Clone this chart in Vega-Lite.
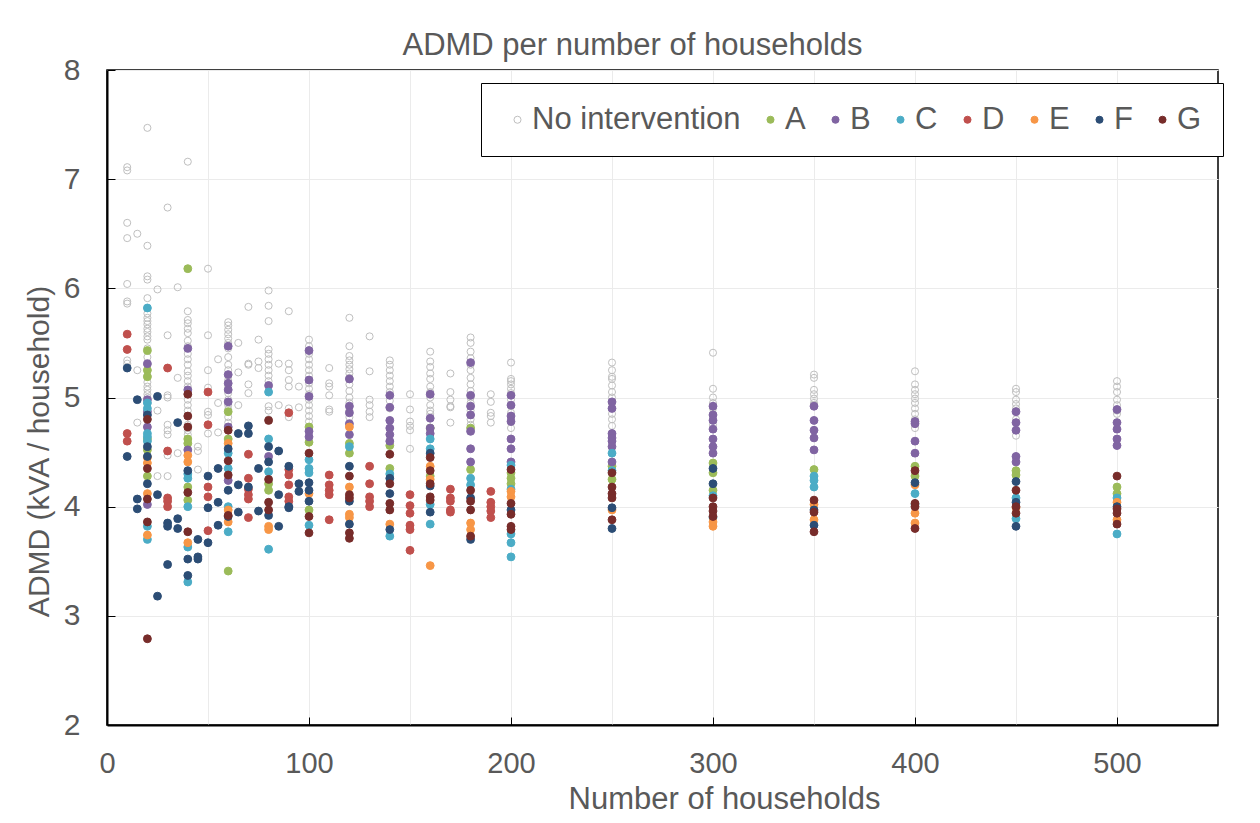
{
  "$schema": "https://vega.github.io/schema/vega-lite/v6.json",
  "width": 1111,
  "height": 655,
  "autosize": "none",
  "padding": {"left": 107, "top": 70, "right": 42, "bottom": 98},
  "background": "white",
  "title": {
    "text": "ADMD per number of households",
    "anchor": "middle",
    "dx": -30,
    "dy": 44,
    "offset": 13,
    "baseline": "alphabetic",
    "fontSize": 31,
    "font": "Liberation Sans",
    "fontWeight": "normal",
    "color": "#595959"
  },
  "config": {
    "font": "Liberation Sans",
    "view": {"stroke": "#000000", "strokeWidth": 1.5}
  },
  "datasets": {
    "admd": [
      {"households": 10, "group": "No intervention", "admd": 7.11},
      {"households": 10, "group": "No intervention", "admd": 7.08},
      {"households": 10, "group": "No intervention", "admd": 6.60},
      {"households": 10, "group": "No intervention", "admd": 6.46},
      {"households": 10, "group": "No intervention", "admd": 6.04},
      {"households": 10, "group": "No intervention", "admd": 5.88},
      {"households": 10, "group": "No intervention", "admd": 5.86},
      {"households": 10, "group": "No intervention", "admd": 5.34},
      {"households": 10, "group": "No intervention", "admd": 5.31},
      {"households": 10, "group": "D", "admd": 5.58},
      {"households": 10, "group": "D", "admd": 5.44},
      {"households": 10, "group": "D", "admd": 4.67},
      {"households": 10, "group": "D", "admd": 4.60},
      {"households": 10, "group": "F", "admd": 5.27},
      {"households": 10, "group": "F", "admd": 4.46},

      {"households": 15, "group": "No intervention", "admd": 6.50},
      {"households": 15, "group": "No intervention", "admd": 5.25},
      {"households": 15, "group": "No intervention", "admd": 4.77},
      {"households": 15, "group": "F", "admd": 4.98},
      {"households": 15, "group": "F", "admd": 4.07},
      {"households": 15, "group": "F", "admd": 3.98},

      {"households": 20, "group": "No intervention", "admd": 7.47},
      {"households": 20, "group": "No intervention", "admd": 6.39},
      {"households": 20, "group": "No intervention", "admd": 6.11},
      {"households": 20, "group": "No intervention", "admd": 6.08},
      {"households": 20, "group": "No intervention", "admd": 5.91},
      {"households": 20, "group": "No intervention", "admd": 5.77},
      {"households": 20, "group": "No intervention", "admd": 5.73},
      {"households": 20, "group": "No intervention", "admd": 5.70},
      {"households": 20, "group": "No intervention", "admd": 5.67},
      {"households": 20, "group": "No intervention", "admd": 5.63},
      {"households": 20, "group": "No intervention", "admd": 5.60},
      {"households": 20, "group": "No intervention", "admd": 5.56},
      {"households": 20, "group": "No intervention", "admd": 5.53},
      {"households": 20, "group": "No intervention", "admd": 5.45},
      {"households": 20, "group": "No intervention", "admd": 5.37},
      {"households": 20, "group": "No intervention", "admd": 5.30},
      {"households": 20, "group": "No intervention", "admd": 5.20},
      {"households": 20, "group": "No intervention", "admd": 5.14},
      {"households": 20, "group": "No intervention", "admd": 5.10},
      {"households": 20, "group": "No intervention", "admd": 5.07},
      {"households": 20, "group": "No intervention", "admd": 5.03},
      {"households": 20, "group": "No intervention", "admd": 5.00},
      {"households": 20, "group": "No intervention", "admd": 4.95},
      {"households": 20, "group": "A", "admd": 5.43},
      {"households": 20, "group": "A", "admd": 5.25},
      {"households": 20, "group": "A", "admd": 5.19},
      {"households": 20, "group": "A", "admd": 4.62},
      {"households": 20, "group": "A", "admd": 4.52},
      {"households": 20, "group": "A", "admd": 4.28},
      {"households": 20, "group": "B", "admd": 5.31},
      {"households": 20, "group": "B", "admd": 4.98},
      {"households": 20, "group": "B", "admd": 4.87},
      {"households": 20, "group": "B", "admd": 4.73},
      {"households": 20, "group": "B", "admd": 4.02},
      {"households": 20, "group": "C", "admd": 5.82},
      {"households": 20, "group": "C", "admd": 4.95},
      {"households": 20, "group": "C", "admd": 4.90},
      {"households": 20, "group": "C", "admd": 4.67},
      {"households": 20, "group": "C", "admd": 4.64},
      {"households": 20, "group": "C", "admd": 4.60},
      {"households": 20, "group": "C", "admd": 3.82},
      {"households": 20, "group": "C", "admd": 3.70},
      {"households": 20, "group": "E", "admd": 4.45},
      {"households": 20, "group": "E", "admd": 4.40},
      {"households": 20, "group": "E", "admd": 4.12},
      {"households": 20, "group": "E", "admd": 3.74},
      {"households": 20, "group": "F", "admd": 4.84},
      {"households": 20, "group": "F", "admd": 4.55},
      {"households": 20, "group": "F", "admd": 4.46},
      {"households": 20, "group": "F", "admd": 4.21},
      {"households": 20, "group": "G", "admd": 4.80},
      {"households": 20, "group": "G", "admd": 4.35},
      {"households": 20, "group": "G", "admd": 4.07},
      {"households": 20, "group": "G", "admd": 3.86},
      {"households": 20, "group": "G", "admd": 2.79},

      {"households": 25, "group": "No intervention", "admd": 5.99},
      {"households": 25, "group": "No intervention", "admd": 4.88},
      {"households": 25, "group": "No intervention", "admd": 4.28},
      {"households": 25, "group": "F", "admd": 5.01},
      {"households": 25, "group": "F", "admd": 4.11},
      {"households": 25, "group": "F", "admd": 3.18},

      {"households": 30, "group": "No intervention", "admd": 6.74},
      {"households": 30, "group": "No intervention", "admd": 5.57},
      {"households": 30, "group": "No intervention", "admd": 5.02},
      {"households": 30, "group": "No intervention", "admd": 5.00},
      {"households": 30, "group": "No intervention", "admd": 4.75},
      {"households": 30, "group": "No intervention", "admd": 4.70},
      {"households": 30, "group": "No intervention", "admd": 4.66},
      {"households": 30, "group": "No intervention", "admd": 4.47},
      {"households": 30, "group": "No intervention", "admd": 4.28},
      {"households": 30, "group": "D", "admd": 5.27},
      {"households": 30, "group": "D", "admd": 4.51},
      {"households": 30, "group": "D", "admd": 4.08},
      {"households": 30, "group": "D", "admd": 4.05},
      {"households": 30, "group": "D", "admd": 4.00},
      {"households": 30, "group": "F", "admd": 3.85},
      {"households": 30, "group": "F", "admd": 3.82},
      {"households": 30, "group": "F", "admd": 3.47},

      {"households": 35, "group": "No intervention", "admd": 6.01},
      {"households": 35, "group": "No intervention", "admd": 5.18},
      {"households": 35, "group": "No intervention", "admd": 4.49},
      {"households": 35, "group": "F", "admd": 4.77},
      {"households": 35, "group": "F", "admd": 3.89},
      {"households": 35, "group": "F", "admd": 3.80},

      {"households": 40, "group": "No intervention", "admd": 7.16},
      {"households": 40, "group": "No intervention", "admd": 5.79},
      {"households": 40, "group": "No intervention", "admd": 5.71},
      {"households": 40, "group": "No intervention", "admd": 5.68},
      {"households": 40, "group": "No intervention", "admd": 5.63},
      {"households": 40, "group": "No intervention", "admd": 5.59},
      {"households": 40, "group": "No intervention", "admd": 5.52},
      {"households": 40, "group": "No intervention", "admd": 5.47},
      {"households": 40, "group": "No intervention", "admd": 5.40},
      {"households": 40, "group": "No intervention", "admd": 5.35},
      {"households": 40, "group": "No intervention", "admd": 5.30},
      {"households": 40, "group": "No intervention", "admd": 5.24},
      {"households": 40, "group": "No intervention", "admd": 5.20},
      {"households": 40, "group": "No intervention", "admd": 5.15},
      {"households": 40, "group": "No intervention", "admd": 5.10},
      {"households": 40, "group": "No intervention", "admd": 5.04},
      {"households": 40, "group": "No intervention", "admd": 4.98},
      {"households": 40, "group": "No intervention", "admd": 4.93},
      {"households": 40, "group": "No intervention", "admd": 4.88},
      {"households": 40, "group": "No intervention", "admd": 4.75},
      {"households": 40, "group": "No intervention", "admd": 4.70},
      {"households": 40, "group": "No intervention", "admd": 4.66},
      {"households": 40, "group": "A", "admd": 6.18},
      {"households": 40, "group": "A", "admd": 4.62},
      {"households": 40, "group": "A", "admd": 4.58},
      {"households": 40, "group": "A", "admd": 4.18},
      {"households": 40, "group": "A", "admd": 4.06},
      {"households": 40, "group": "B", "admd": 5.45},
      {"households": 40, "group": "B", "admd": 5.07},
      {"households": 40, "group": "B", "admd": 4.52},
      {"households": 40, "group": "C", "admd": 4.30},
      {"households": 40, "group": "C", "admd": 4.26},
      {"households": 40, "group": "C", "admd": 4.00},
      {"households": 40, "group": "C", "admd": 3.63},
      {"households": 40, "group": "C", "admd": 3.31},
      {"households": 40, "group": "E", "admd": 4.47},
      {"households": 40, "group": "E", "admd": 4.41},
      {"households": 40, "group": "E", "admd": 3.67},
      {"households": 40, "group": "F", "admd": 4.33},
      {"households": 40, "group": "F", "admd": 3.52},
      {"households": 40, "group": "F", "admd": 3.37},
      {"households": 40, "group": "G", "admd": 5.03},
      {"households": 40, "group": "G", "admd": 4.83},
      {"households": 40, "group": "G", "admd": 4.73},
      {"households": 40, "group": "G", "admd": 4.13},
      {"households": 40, "group": "G", "admd": 3.77},

      {"households": 45, "group": "No intervention", "admd": 4.55},
      {"households": 45, "group": "No intervention", "admd": 4.51},
      {"households": 45, "group": "No intervention", "admd": 4.34},
      {"households": 45, "group": "F", "admd": 3.70},
      {"households": 45, "group": "F", "admd": 3.54},
      {"households": 45, "group": "F", "admd": 3.52},

      {"households": 50, "group": "No intervention", "admd": 6.18},
      {"households": 50, "group": "No intervention", "admd": 5.57},
      {"households": 50, "group": "No intervention", "admd": 5.25},
      {"households": 50, "group": "No intervention", "admd": 5.09},
      {"households": 50, "group": "No intervention", "admd": 4.87},
      {"households": 50, "group": "No intervention", "admd": 4.84},
      {"households": 50, "group": "No intervention", "admd": 4.67},
      {"households": 50, "group": "D", "admd": 5.05},
      {"households": 50, "group": "D", "admd": 4.75},
      {"households": 50, "group": "D", "admd": 4.18},
      {"households": 50, "group": "D", "admd": 4.09},
      {"households": 50, "group": "D", "admd": 3.78},
      {"households": 50, "group": "F", "admd": 4.28},
      {"households": 50, "group": "F", "admd": 3.99},
      {"households": 50, "group": "F", "admd": 3.67},

      {"households": 55, "group": "No intervention", "admd": 5.35},
      {"households": 55, "group": "No intervention", "admd": 4.95},
      {"households": 55, "group": "No intervention", "admd": 4.68},
      {"households": 55, "group": "F", "admd": 4.35},
      {"households": 55, "group": "F", "admd": 4.04},
      {"households": 55, "group": "F", "admd": 3.83},

      {"households": 60, "group": "No intervention", "admd": 5.69},
      {"households": 60, "group": "No intervention", "admd": 5.66},
      {"households": 60, "group": "No intervention", "admd": 5.62},
      {"households": 60, "group": "No intervention", "admd": 5.58},
      {"households": 60, "group": "No intervention", "admd": 5.54},
      {"households": 60, "group": "No intervention", "admd": 5.50},
      {"households": 60, "group": "No intervention", "admd": 5.45},
      {"households": 60, "group": "No intervention", "admd": 5.37},
      {"households": 60, "group": "No intervention", "admd": 5.30},
      {"households": 60, "group": "No intervention", "admd": 5.25},
      {"households": 60, "group": "No intervention", "admd": 5.20},
      {"households": 60, "group": "No intervention", "admd": 5.16},
      {"households": 60, "group": "No intervention", "admd": 5.10},
      {"households": 60, "group": "No intervention", "admd": 5.04},
      {"households": 60, "group": "No intervention", "admd": 4.98},
      {"households": 60, "group": "No intervention", "admd": 4.93},
      {"households": 60, "group": "No intervention", "admd": 4.89},
      {"households": 60, "group": "No intervention", "admd": 4.82},
      {"households": 60, "group": "No intervention", "admd": 4.77},
      {"households": 60, "group": "A", "admd": 4.87},
      {"households": 60, "group": "A", "admd": 4.62},
      {"households": 60, "group": "A", "admd": 3.41},
      {"households": 60, "group": "B", "admd": 5.47},
      {"households": 60, "group": "B", "admd": 5.21},
      {"households": 60, "group": "B", "admd": 5.13},
      {"households": 60, "group": "B", "admd": 5.07},
      {"households": 60, "group": "B", "admd": 4.96},
      {"households": 60, "group": "B", "admd": 4.73},
      {"households": 60, "group": "B", "admd": 4.24},
      {"households": 60, "group": "C", "admd": 4.49},
      {"households": 60, "group": "C", "admd": 4.35},
      {"households": 60, "group": "C", "admd": 4.00},
      {"households": 60, "group": "C", "admd": 3.77},
      {"households": 60, "group": "E", "admd": 4.58},
      {"households": 60, "group": "E", "admd": 3.97},
      {"households": 60, "group": "E", "admd": 3.86},
      {"households": 60, "group": "F", "admd": 4.53},
      {"households": 60, "group": "F", "admd": 4.15},
      {"households": 60, "group": "F", "admd": 3.91},
      {"households": 60, "group": "G", "admd": 4.70},
      {"households": 60, "group": "G", "admd": 4.42},
      {"households": 60, "group": "G", "admd": 4.29},
      {"households": 60, "group": "G", "admd": 3.92},

      {"households": 65, "group": "No intervention", "admd": 5.50},
      {"households": 65, "group": "No intervention", "admd": 5.23},
      {"households": 65, "group": "No intervention", "admd": 4.93},
      {"households": 65, "group": "F", "admd": 4.67},
      {"households": 65, "group": "F", "admd": 4.20},
      {"households": 65, "group": "F", "admd": 3.95},

      {"households": 70, "group": "No intervention", "admd": 5.83},
      {"households": 70, "group": "No intervention", "admd": 5.31},
      {"households": 70, "group": "No intervention", "admd": 5.30},
      {"households": 70, "group": "No intervention", "admd": 5.12},
      {"households": 70, "group": "No intervention", "admd": 5.04},
      {"households": 70, "group": "D", "admd": 4.48},
      {"households": 70, "group": "D", "admd": 4.26},
      {"households": 70, "group": "D", "admd": 4.16},
      {"households": 70, "group": "D", "admd": 4.11},
      {"households": 70, "group": "D", "admd": 4.07},
      {"households": 70, "group": "D", "admd": 3.90},
      {"households": 70, "group": "F", "admd": 4.74},
      {"households": 70, "group": "F", "admd": 4.67},
      {"households": 70, "group": "F", "admd": 4.18},

      {"households": 75, "group": "No intervention", "admd": 5.53},
      {"households": 75, "group": "No intervention", "admd": 5.33},
      {"households": 75, "group": "No intervention", "admd": 5.27},
      {"households": 75, "group": "F", "admd": 4.35},
      {"households": 75, "group": "F", "admd": 3.96},

      {"households": 80, "group": "No intervention", "admd": 5.98},
      {"households": 80, "group": "No intervention", "admd": 5.84},
      {"households": 80, "group": "No intervention", "admd": 5.70},
      {"households": 80, "group": "No intervention", "admd": 5.44},
      {"households": 80, "group": "No intervention", "admd": 5.40},
      {"households": 80, "group": "No intervention", "admd": 5.35},
      {"households": 80, "group": "No intervention", "admd": 5.30},
      {"households": 80, "group": "No intervention", "admd": 5.25},
      {"households": 80, "group": "No intervention", "admd": 5.20},
      {"households": 80, "group": "No intervention", "admd": 5.15},
      {"households": 80, "group": "No intervention", "admd": 4.92},
      {"households": 80, "group": "No intervention", "admd": 4.88},
      {"households": 80, "group": "No intervention", "admd": 4.80},
      {"households": 80, "group": "A", "admd": 4.21},
      {"households": 80, "group": "A", "admd": 4.15},
      {"households": 80, "group": "B", "admd": 5.11},
      {"households": 80, "group": "B", "admd": 4.46},
      {"households": 80, "group": "C", "admd": 5.05},
      {"households": 80, "group": "C", "admd": 4.62},
      {"households": 80, "group": "C", "admd": 4.32},
      {"households": 80, "group": "C", "admd": 3.61},
      {"households": 80, "group": "E", "admd": 3.82},
      {"households": 80, "group": "E", "admd": 3.79},
      {"households": 80, "group": "F", "admd": 4.55},
      {"households": 80, "group": "F", "admd": 4.41},
      {"households": 80, "group": "F", "admd": 3.92},
      {"households": 80, "group": "G", "admd": 4.79},
      {"households": 80, "group": "G", "admd": 4.25},
      {"households": 80, "group": "G", "admd": 4.04},
      {"households": 80, "group": "G", "admd": 3.97},

      {"households": 85, "group": "No intervention", "admd": 5.31},
      {"households": 85, "group": "No intervention", "admd": 4.93},
      {"households": 85, "group": "F", "admd": 4.51},
      {"households": 85, "group": "F", "admd": 4.11},
      {"households": 85, "group": "F", "admd": 3.82},

      {"households": 90, "group": "No intervention", "admd": 5.79},
      {"households": 90, "group": "No intervention", "admd": 5.31},
      {"households": 90, "group": "No intervention", "admd": 5.25},
      {"households": 90, "group": "No intervention", "admd": 5.16},
      {"households": 90, "group": "No intervention", "admd": 5.10},
      {"households": 90, "group": "No intervention", "admd": 4.90},
      {"households": 90, "group": "No intervention", "admd": 4.82},
      {"households": 90, "group": "D", "admd": 4.86},
      {"households": 90, "group": "D", "admd": 4.34},
      {"households": 90, "group": "D", "admd": 4.29},
      {"households": 90, "group": "D", "admd": 4.20},
      {"households": 90, "group": "D", "admd": 4.09},
      {"households": 90, "group": "D", "admd": 4.05},
      {"households": 90, "group": "F", "admd": 4.37},
      {"households": 90, "group": "F", "admd": 4.00},
      {"households": 90, "group": "F", "admd": 3.99},

      {"households": 95, "group": "No intervention", "admd": 5.10},
      {"households": 95, "group": "No intervention", "admd": 4.91},
      {"households": 95, "group": "F", "admd": 4.21},
      {"households": 95, "group": "F", "admd": 4.14},

      {"households": 100, "group": "No intervention", "admd": 5.53},
      {"households": 100, "group": "No intervention", "admd": 5.47},
      {"households": 100, "group": "No intervention", "admd": 5.40},
      {"households": 100, "group": "No intervention", "admd": 5.35},
      {"households": 100, "group": "No intervention", "admd": 5.30},
      {"households": 100, "group": "No intervention", "admd": 5.25},
      {"households": 100, "group": "No intervention", "admd": 5.20},
      {"households": 100, "group": "No intervention", "admd": 5.13},
      {"households": 100, "group": "No intervention", "admd": 5.08},
      {"households": 100, "group": "No intervention", "admd": 5.03},
      {"households": 100, "group": "No intervention", "admd": 4.98},
      {"households": 100, "group": "No intervention", "admd": 4.93},
      {"households": 100, "group": "No intervention", "admd": 4.88},
      {"households": 100, "group": "No intervention", "admd": 4.83},
      {"households": 100, "group": "No intervention", "admd": 4.78},
      {"households": 100, "group": "No intervention", "admd": 4.70},
      {"households": 100, "group": "A", "admd": 4.73},
      {"households": 100, "group": "A", "admd": 4.59},
      {"households": 100, "group": "A", "admd": 3.97},
      {"households": 100, "group": "B", "admd": 5.43},
      {"households": 100, "group": "B", "admd": 5.16},
      {"households": 100, "group": "B", "admd": 5.01},
      {"households": 100, "group": "B", "admd": 4.69},
      {"households": 100, "group": "B", "admd": 4.64},
      {"households": 100, "group": "C", "admd": 4.43},
      {"households": 100, "group": "C", "admd": 4.35},
      {"households": 100, "group": "C", "admd": 4.31},
      {"households": 100, "group": "C", "admd": 3.83},
      {"households": 100, "group": "E", "admd": 4.12},
      {"households": 100, "group": "F", "admd": 4.22},
      {"households": 100, "group": "F", "admd": 4.15},
      {"households": 100, "group": "F", "admd": 4.05},
      {"households": 100, "group": "G", "admd": 4.49},
      {"households": 100, "group": "G", "admd": 3.91},
      {"households": 100, "group": "G", "admd": 3.76},

      {"households": 110, "group": "No intervention", "admd": 5.27},
      {"households": 110, "group": "No intervention", "admd": 5.13},
      {"households": 110, "group": "No intervention", "admd": 5.10},
      {"households": 110, "group": "No intervention", "admd": 5.02},
      {"households": 110, "group": "No intervention", "admd": 4.89},
      {"households": 110, "group": "No intervention", "admd": 4.87},
      {"households": 110, "group": "D", "admd": 4.29},
      {"households": 110, "group": "D", "admd": 4.20},
      {"households": 110, "group": "D", "admd": 4.15},
      {"households": 110, "group": "D", "admd": 4.11},
      {"households": 110, "group": "D", "admd": 3.88},

      {"households": 120, "group": "No intervention", "admd": 5.73},
      {"households": 120, "group": "No intervention", "admd": 5.47},
      {"households": 120, "group": "No intervention", "admd": 5.38},
      {"households": 120, "group": "No intervention", "admd": 5.34},
      {"households": 120, "group": "No intervention", "admd": 5.30},
      {"households": 120, "group": "No intervention", "admd": 5.26},
      {"households": 120, "group": "No intervention", "admd": 5.22},
      {"households": 120, "group": "No intervention", "admd": 5.18},
      {"households": 120, "group": "No intervention", "admd": 5.12},
      {"households": 120, "group": "No intervention", "admd": 5.06},
      {"households": 120, "group": "No intervention", "admd": 5.00},
      {"households": 120, "group": "No intervention", "admd": 4.95},
      {"households": 120, "group": "No intervention", "admd": 4.88},
      {"households": 120, "group": "No intervention", "admd": 4.82},
      {"households": 120, "group": "A", "admd": 4.58},
      {"households": 120, "group": "A", "admd": 4.49},
      {"households": 120, "group": "B", "admd": 5.17},
      {"households": 120, "group": "B", "admd": 4.92},
      {"households": 120, "group": "B", "admd": 4.86},
      {"households": 120, "group": "B", "admd": 4.76},
      {"households": 120, "group": "B", "admd": 4.66},
      {"households": 120, "group": "C", "admd": 4.55},
      {"households": 120, "group": "E", "admd": 4.73},
      {"households": 120, "group": "E", "admd": 4.18},
      {"households": 120, "group": "E", "admd": 3.93},
      {"households": 120, "group": "E", "admd": 3.90},
      {"households": 120, "group": "F", "admd": 4.37},
      {"households": 120, "group": "F", "admd": 4.05},
      {"households": 120, "group": "F", "admd": 3.84},
      {"households": 120, "group": "G", "admd": 4.28},
      {"households": 120, "group": "G", "admd": 4.11},
      {"households": 120, "group": "G", "admd": 4.08},
      {"households": 120, "group": "G", "admd": 3.76},
      {"households": 120, "group": "G", "admd": 3.71},

      {"households": 130, "group": "No intervention", "admd": 5.56},
      {"households": 130, "group": "No intervention", "admd": 5.24},
      {"households": 130, "group": "No intervention", "admd": 4.98},
      {"households": 130, "group": "No intervention", "admd": 4.93},
      {"households": 130, "group": "No intervention", "admd": 4.87},
      {"households": 130, "group": "No intervention", "admd": 4.82},
      {"households": 130, "group": "D", "admd": 4.37},
      {"households": 130, "group": "D", "admd": 4.21},
      {"households": 130, "group": "D", "admd": 4.09},
      {"households": 130, "group": "D", "admd": 4.05},
      {"households": 130, "group": "D", "admd": 4.00},

      {"households": 140, "group": "No intervention", "admd": 5.34},
      {"households": 140, "group": "No intervention", "admd": 5.30},
      {"households": 140, "group": "No intervention", "admd": 5.25},
      {"households": 140, "group": "No intervention", "admd": 5.20},
      {"households": 140, "group": "No intervention", "admd": 5.15},
      {"households": 140, "group": "No intervention", "admd": 5.10},
      {"households": 140, "group": "No intervention", "admd": 5.05},
      {"households": 140, "group": "No intervention", "admd": 4.97},
      {"households": 140, "group": "No intervention", "admd": 4.90},
      {"households": 140, "group": "A", "admd": 4.56},
      {"households": 140, "group": "A", "admd": 4.35},
      {"households": 140, "group": "B", "admd": 5.02},
      {"households": 140, "group": "B", "admd": 4.91},
      {"households": 140, "group": "B", "admd": 4.79},
      {"households": 140, "group": "B", "admd": 4.72},
      {"households": 140, "group": "B", "admd": 4.66},
      {"households": 140, "group": "B", "admd": 4.60},
      {"households": 140, "group": "C", "admd": 4.30},
      {"households": 140, "group": "C", "admd": 3.73},
      {"households": 140, "group": "E", "admd": 3.84},
      {"households": 140, "group": "F", "admd": 4.26},
      {"households": 140, "group": "F", "admd": 4.12},
      {"households": 140, "group": "F", "admd": 3.79},
      {"households": 140, "group": "G", "admd": 4.48},
      {"households": 140, "group": "G", "admd": 4.21},
      {"households": 140, "group": "G", "admd": 4.03},
      {"households": 140, "group": "G", "admd": 3.97},

      {"households": 150, "group": "No intervention", "admd": 5.03},
      {"households": 150, "group": "No intervention", "admd": 4.89},
      {"households": 150, "group": "No intervention", "admd": 4.78},
      {"households": 150, "group": "No intervention", "admd": 4.74},
      {"households": 150, "group": "No intervention", "admd": 4.70},
      {"households": 150, "group": "No intervention", "admd": 4.53},
      {"households": 150, "group": "D", "admd": 4.11},
      {"households": 150, "group": "D", "admd": 4.01},
      {"households": 150, "group": "D", "admd": 3.94},
      {"households": 150, "group": "D", "admd": 3.83},
      {"households": 150, "group": "D", "admd": 3.79},
      {"households": 150, "group": "D", "admd": 3.60},

      {"households": 160, "group": "No intervention", "admd": 5.42},
      {"households": 160, "group": "No intervention", "admd": 5.33},
      {"households": 160, "group": "No intervention", "admd": 5.28},
      {"households": 160, "group": "No intervention", "admd": 5.22},
      {"households": 160, "group": "No intervention", "admd": 5.17},
      {"households": 160, "group": "No intervention", "admd": 5.10},
      {"households": 160, "group": "No intervention", "admd": 5.05},
      {"households": 160, "group": "No intervention", "admd": 5.00},
      {"households": 160, "group": "No intervention", "admd": 4.93},
      {"households": 160, "group": "No intervention", "admd": 4.88},
      {"households": 160, "group": "No intervention", "admd": 4.85},
      {"households": 160, "group": "A", "admd": 4.72},
      {"households": 160, "group": "A", "admd": 4.28},
      {"households": 160, "group": "B", "admd": 5.03},
      {"households": 160, "group": "B", "admd": 4.81},
      {"households": 160, "group": "B", "admd": 4.72},
      {"households": 160, "group": "B", "admd": 4.67},
      {"households": 160, "group": "C", "admd": 4.62},
      {"households": 160, "group": "C", "admd": 4.53},
      {"households": 160, "group": "C", "admd": 4.02},
      {"households": 160, "group": "C", "admd": 3.84},
      {"households": 160, "group": "E", "admd": 4.37},
      {"households": 160, "group": "E", "admd": 4.25},
      {"households": 160, "group": "E", "admd": 3.46},
      {"households": 160, "group": "F", "admd": 4.49},
      {"households": 160, "group": "F", "admd": 4.19},
      {"households": 160, "group": "F", "admd": 3.95},
      {"households": 160, "group": "G", "admd": 4.45},
      {"households": 160, "group": "G", "admd": 4.33},
      {"households": 160, "group": "G", "admd": 4.21},
      {"households": 160, "group": "G", "admd": 4.09},
      {"households": 160, "group": "G", "admd": 4.06},

      {"households": 170, "group": "No intervention", "admd": 5.22},
      {"households": 170, "group": "No intervention", "admd": 5.05},
      {"households": 170, "group": "No intervention", "admd": 4.98},
      {"households": 170, "group": "No intervention", "admd": 4.92},
      {"households": 170, "group": "No intervention", "admd": 4.91},
      {"households": 170, "group": "No intervention", "admd": 4.77},
      {"households": 170, "group": "D", "admd": 4.16},
      {"households": 170, "group": "D", "admd": 4.08},
      {"households": 170, "group": "D", "admd": 4.05},
      {"households": 170, "group": "D", "admd": 3.97},
      {"households": 170, "group": "D", "admd": 3.95},

      {"households": 180, "group": "No intervention", "admd": 5.55},
      {"households": 180, "group": "No intervention", "admd": 5.50},
      {"households": 180, "group": "No intervention", "admd": 5.42},
      {"households": 180, "group": "No intervention", "admd": 5.36},
      {"households": 180, "group": "No intervention", "admd": 5.30},
      {"households": 180, "group": "No intervention", "admd": 5.25},
      {"households": 180, "group": "No intervention", "admd": 5.18},
      {"households": 180, "group": "No intervention", "admd": 5.12},
      {"households": 180, "group": "No intervention", "admd": 5.06},
      {"households": 180, "group": "No intervention", "admd": 5.00},
      {"households": 180, "group": "No intervention", "admd": 4.95},
      {"households": 180, "group": "No intervention", "admd": 4.88},
      {"households": 180, "group": "No intervention", "admd": 4.80},
      {"households": 180, "group": "No intervention", "admd": 4.75},
      {"households": 180, "group": "A", "admd": 4.72},
      {"households": 180, "group": "A", "admd": 4.34},
      {"households": 180, "group": "B", "admd": 5.32},
      {"households": 180, "group": "B", "admd": 5.02},
      {"households": 180, "group": "B", "admd": 4.92},
      {"households": 180, "group": "B", "admd": 4.84},
      {"households": 180, "group": "B", "admd": 4.69},
      {"households": 180, "group": "B", "admd": 4.53},
      {"households": 180, "group": "B", "admd": 4.41},
      {"households": 180, "group": "C", "admd": 4.26},
      {"households": 180, "group": "C", "admd": 4.20},
      {"households": 180, "group": "E", "admd": 3.85},
      {"households": 180, "group": "E", "admd": 3.79},
      {"households": 180, "group": "F", "admd": 4.08},
      {"households": 180, "group": "F", "admd": 3.70},
      {"households": 180, "group": "G", "admd": 4.15},
      {"households": 180, "group": "G", "admd": 4.05},
      {"households": 180, "group": "G", "admd": 3.97},
      {"households": 180, "group": "G", "admd": 3.73},

      {"households": 190, "group": "No intervention", "admd": 5.03},
      {"households": 190, "group": "No intervention", "admd": 4.96},
      {"households": 190, "group": "No intervention", "admd": 4.86},
      {"households": 190, "group": "No intervention", "admd": 4.83},
      {"households": 190, "group": "No intervention", "admd": 4.77},
      {"households": 190, "group": "D", "admd": 4.14},
      {"households": 190, "group": "D", "admd": 4.04},
      {"households": 190, "group": "D", "admd": 4.00},
      {"households": 190, "group": "D", "admd": 3.96},
      {"households": 190, "group": "D", "admd": 3.90},

      {"households": 200, "group": "No intervention", "admd": 5.32},
      {"households": 200, "group": "No intervention", "admd": 5.17},
      {"households": 200, "group": "No intervention", "admd": 5.15},
      {"households": 200, "group": "No intervention", "admd": 5.12},
      {"households": 200, "group": "No intervention", "admd": 5.08},
      {"households": 200, "group": "No intervention", "admd": 5.04},
      {"households": 200, "group": "No intervention", "admd": 4.98},
      {"households": 200, "group": "No intervention", "admd": 4.92},
      {"households": 200, "group": "No intervention", "admd": 4.86},
      {"households": 200, "group": "No intervention", "admd": 4.80},
      {"households": 200, "group": "No intervention", "admd": 4.72},
      {"households": 200, "group": "A", "admd": 4.31},
      {"households": 200, "group": "A", "admd": 4.26},
      {"households": 200, "group": "A", "admd": 4.21},
      {"households": 200, "group": "B", "admd": 5.02},
      {"households": 200, "group": "B", "admd": 4.93},
      {"households": 200, "group": "B", "admd": 4.83},
      {"households": 200, "group": "B", "admd": 4.78},
      {"households": 200, "group": "B", "admd": 4.62},
      {"households": 200, "group": "B", "admd": 4.53},
      {"households": 200, "group": "B", "admd": 4.41},
      {"households": 200, "group": "C", "admd": 4.38},
      {"households": 200, "group": "C", "admd": 4.16},
      {"households": 200, "group": "C", "admd": 3.75},
      {"households": 200, "group": "C", "admd": 3.67},
      {"households": 200, "group": "C", "admd": 3.54},
      {"households": 200, "group": "E", "admd": 4.14},
      {"households": 200, "group": "E", "admd": 4.09},
      {"households": 200, "group": "F", "admd": 3.97},
      {"households": 200, "group": "G", "admd": 4.34},
      {"households": 200, "group": "G", "admd": 4.03},
      {"households": 200, "group": "G", "admd": 3.93},
      {"households": 200, "group": "G", "admd": 3.82},
      {"households": 200, "group": "G", "admd": 3.79},

      {"households": 250, "group": "No intervention", "admd": 5.32},
      {"households": 250, "group": "No intervention", "admd": 5.25},
      {"households": 250, "group": "No intervention", "admd": 5.19},
      {"households": 250, "group": "No intervention", "admd": 5.17},
      {"households": 250, "group": "No intervention", "admd": 5.11},
      {"households": 250, "group": "No intervention", "admd": 5.05},
      {"households": 250, "group": "No intervention", "admd": 5.00},
      {"households": 250, "group": "No intervention", "admd": 4.95},
      {"households": 250, "group": "No intervention", "admd": 4.90},
      {"households": 250, "group": "No intervention", "admd": 4.85},
      {"households": 250, "group": "No intervention", "admd": 4.80},
      {"households": 250, "group": "No intervention", "admd": 4.74},
      {"households": 250, "group": "A", "admd": 4.37},
      {"households": 250, "group": "A", "admd": 4.25},
      {"households": 250, "group": "B", "admd": 4.96},
      {"households": 250, "group": "B", "admd": 4.90},
      {"households": 250, "group": "B", "admd": 4.67},
      {"households": 250, "group": "B", "admd": 4.63},
      {"households": 250, "group": "B", "admd": 4.60},
      {"households": 250, "group": "B", "admd": 4.55},
      {"households": 250, "group": "B", "admd": 4.41},
      {"households": 250, "group": "C", "admd": 4.49},
      {"households": 250, "group": "C", "admd": 4.33},
      {"households": 250, "group": "E", "admd": 3.97},
      {"households": 250, "group": "F", "admd": 3.99},
      {"households": 250, "group": "F", "admd": 3.80},
      {"households": 250, "group": "G", "admd": 4.31},
      {"households": 250, "group": "G", "admd": 4.18},
      {"households": 250, "group": "G", "admd": 4.12},
      {"households": 250, "group": "G", "admd": 4.08},
      {"households": 250, "group": "G", "admd": 3.88},

      {"households": 300, "group": "No intervention", "admd": 5.41},
      {"households": 300, "group": "No intervention", "admd": 5.08},
      {"households": 300, "group": "No intervention", "admd": 5.00},
      {"households": 300, "group": "No intervention", "admd": 4.95},
      {"households": 300, "group": "No intervention", "admd": 4.90},
      {"households": 300, "group": "No intervention", "admd": 4.85},
      {"households": 300, "group": "No intervention", "admd": 4.80},
      {"households": 300, "group": "No intervention", "admd": 4.75},
      {"households": 300, "group": "A", "admd": 4.40},
      {"households": 300, "group": "A", "admd": 4.31},
      {"households": 300, "group": "A", "admd": 4.15},
      {"households": 300, "group": "B", "admd": 4.92},
      {"households": 300, "group": "B", "admd": 4.84},
      {"households": 300, "group": "B", "admd": 4.79},
      {"households": 300, "group": "B", "admd": 4.71},
      {"households": 300, "group": "B", "admd": 4.62},
      {"households": 300, "group": "B", "admd": 4.55},
      {"households": 300, "group": "B", "admd": 4.49},
      {"households": 300, "group": "C", "admd": 4.10},
      {"households": 300, "group": "C", "admd": 3.90},
      {"households": 300, "group": "E", "admd": 3.86},
      {"households": 300, "group": "E", "admd": 3.82},
      {"households": 300, "group": "F", "admd": 4.35},
      {"households": 300, "group": "F", "admd": 4.21},
      {"households": 300, "group": "G", "admd": 4.08},
      {"households": 300, "group": "G", "admd": 4.00},
      {"households": 300, "group": "G", "admd": 3.96},
      {"households": 300, "group": "G", "admd": 3.91},

      {"households": 350, "group": "No intervention", "admd": 5.21},
      {"households": 350, "group": "No intervention", "admd": 5.18},
      {"households": 350, "group": "No intervention", "admd": 5.07},
      {"households": 350, "group": "No intervention", "admd": 5.03},
      {"households": 350, "group": "No intervention", "admd": 4.99},
      {"households": 350, "group": "No intervention", "admd": 4.95},
      {"households": 350, "group": "No intervention", "admd": 4.93},
      {"households": 350, "group": "A", "admd": 4.34},
      {"households": 350, "group": "B", "admd": 4.92},
      {"households": 350, "group": "B", "admd": 4.79},
      {"households": 350, "group": "B", "admd": 4.70},
      {"households": 350, "group": "B", "admd": 4.63},
      {"households": 350, "group": "B", "admd": 4.52},
      {"households": 350, "group": "C", "admd": 4.28},
      {"households": 350, "group": "C", "admd": 4.24},
      {"households": 350, "group": "C", "admd": 4.18},
      {"households": 350, "group": "E", "admd": 4.02},
      {"households": 350, "group": "E", "admd": 3.88},
      {"households": 350, "group": "F", "admd": 3.97},
      {"households": 350, "group": "F", "admd": 3.83},
      {"households": 350, "group": "G", "admd": 4.06},
      {"households": 350, "group": "G", "admd": 3.95},
      {"households": 350, "group": "G", "admd": 3.77},

      {"households": 400, "group": "No intervention", "admd": 5.24},
      {"households": 400, "group": "No intervention", "admd": 5.12},
      {"households": 400, "group": "No intervention", "admd": 5.07},
      {"households": 400, "group": "No intervention", "admd": 5.03},
      {"households": 400, "group": "No intervention", "admd": 4.99},
      {"households": 400, "group": "No intervention", "admd": 4.95},
      {"households": 400, "group": "No intervention", "admd": 4.90},
      {"households": 400, "group": "No intervention", "admd": 4.85},
      {"households": 400, "group": "No intervention", "admd": 4.80},
      {"households": 400, "group": "No intervention", "admd": 4.72},
      {"households": 400, "group": "A", "admd": 4.37},
      {"households": 400, "group": "A", "admd": 4.28},
      {"households": 400, "group": "B", "admd": 4.78},
      {"households": 400, "group": "B", "admd": 4.76},
      {"households": 400, "group": "B", "admd": 4.60},
      {"households": 400, "group": "B", "admd": 4.49},
      {"households": 400, "group": "C", "admd": 4.12},
      {"households": 400, "group": "C", "admd": 4.02},
      {"households": 400, "group": "E", "admd": 4.20},
      {"households": 400, "group": "E", "admd": 3.94},
      {"households": 400, "group": "E", "admd": 3.85},
      {"households": 400, "group": "F", "admd": 4.22},
      {"households": 400, "group": "G", "admd": 4.33},
      {"households": 400, "group": "G", "admd": 4.03},
      {"households": 400, "group": "G", "admd": 4.00},
      {"households": 400, "group": "G", "admd": 3.80},

      {"households": 450, "group": "No intervention", "admd": 5.08},
      {"households": 450, "group": "No intervention", "admd": 5.05},
      {"households": 450, "group": "No intervention", "admd": 4.98},
      {"households": 450, "group": "No intervention", "admd": 4.94},
      {"households": 450, "group": "No intervention", "admd": 4.90},
      {"households": 450, "group": "No intervention", "admd": 4.80},
      {"households": 450, "group": "No intervention", "admd": 4.65},
      {"households": 450, "group": "A", "admd": 4.33},
      {"households": 450, "group": "A", "admd": 4.29},
      {"households": 450, "group": "B", "admd": 4.87},
      {"households": 450, "group": "B", "admd": 4.77},
      {"households": 450, "group": "B", "admd": 4.70},
      {"households": 450, "group": "B", "admd": 4.46},
      {"households": 450, "group": "B", "admd": 4.41},
      {"households": 450, "group": "C", "admd": 4.08},
      {"households": 450, "group": "C", "admd": 3.89},
      {"households": 450, "group": "E", "admd": 3.99},
      {"households": 450, "group": "F", "admd": 4.23},
      {"households": 450, "group": "F", "admd": 4.04},
      {"households": 450, "group": "F", "admd": 3.82},
      {"households": 450, "group": "G", "admd": 4.15},
      {"households": 450, "group": "G", "admd": 4.00},
      {"households": 450, "group": "G", "admd": 3.94},

      {"households": 500, "group": "No intervention", "admd": 5.15},
      {"households": 500, "group": "No intervention", "admd": 5.10},
      {"households": 500, "group": "No intervention", "admd": 5.05},
      {"households": 500, "group": "No intervention", "admd": 4.98},
      {"households": 500, "group": "No intervention", "admd": 4.93},
      {"households": 500, "group": "No intervention", "admd": 4.88},
      {"households": 500, "group": "No intervention", "admd": 4.85},
      {"households": 500, "group": "A", "admd": 4.18},
      {"households": 500, "group": "A", "admd": 4.12},
      {"households": 500, "group": "B", "admd": 4.89},
      {"households": 500, "group": "B", "admd": 4.77},
      {"households": 500, "group": "B", "admd": 4.71},
      {"households": 500, "group": "B", "admd": 4.62},
      {"households": 500, "group": "B", "admd": 4.56},
      {"households": 500, "group": "C", "admd": 4.08},
      {"households": 500, "group": "C", "admd": 3.75},
      {"households": 500, "group": "E", "admd": 4.04},
      {"households": 500, "group": "E", "admd": 3.88},
      {"households": 500, "group": "F", "admd": 4.00},
      {"households": 500, "group": "G", "admd": 4.28},
      {"households": 500, "group": "G", "admd": 3.98},
      {"households": 500, "group": "G", "admd": 3.94},
      {"households": 500, "group": "G", "admd": 3.84}
    ]
  },
  "data": {"name": "admd"},
  "encoding": {
    "x": {
      "field": "households",
      "type": "quantitative",
      "scale": {"domain": [0, 550], "nice": false, "zero": false},
      "axis": {
        "title": "Number of households",
        "values": [0, 50, 100, 150, 200, 250, 300, 350, 400, 450, 500],
        "labelExpr": "datum.value % 100 === 0 ? datum.label : ''",
        "labelFlush": false,
        "labelOverlap": false,
        "labelFontSize": 29,
        "labelColor": "#595959",
        "labelPadding": 32,
        "ticks": true,
        "tickSize": -8,
        "tickColor": "#000000",
        "tickWidth": 1,
        "tickOpacity": {"condition": {"test": "datum.value % 100 === 0 && datum.value > 0", "value": 1}, "value": 0},
        "domainColor": "#000000",
        "domainWidth": 2,
        "grid": true,
        "gridColor": "#EBEBEB",
        "gridWidth": 1,
        "titleFontSize": 31,
        "titleFontWeight": "normal",
        "titleColor": "#595959",
        "titleX": 617,
        "titleY": 83,
        "titleAlign": "center",
        "titleBaseline": "alphabetic"
      }
    },
    "y": {
      "field": "admd",
      "type": "quantitative",
      "scale": {"domain": [2, 8], "nice": false, "zero": false},
      "axis": {
        "title": "ADMD (kVA / household)",
        "values": [2, 3, 4, 5, 6, 7, 8],
        "labelFontSize": 30,
        "labelColor": "#595959",
        "labelPadding": 35,
        "ticks": true,
        "tickSize": -8,
        "tickColor": "#000000",
        "tickWidth": 1,
        "domainColor": "#000000",
        "domainWidth": 2,
        "grid": true,
        "gridColor": "#EBEBEB",
        "gridWidth": 1,
        "titleFontSize": 30,
        "titleFontWeight": "normal",
        "titleColor": "#595959",
        "titleAngle": -90,
        "titleX": -59,
        "titleY": 381,
        "titleAlign": "center",
        "titleBaseline": "alphabetic"
      }
    },
    "fill": {
      "field": "group",
      "type": "nominal",
      "scale": {
        "domain": ["No intervention", "A", "B", "C", "D", "E", "F", "G"],
        "range": ["transparent", "#9BBB59", "#8064A2", "#4BACC6", "#C0504D", "#F79646", "#2C4D75", "#772C2A"]
      },
      "legend": {
        "title": null,
        "orient": "none",
        "legendX": 374,
        "legendY": 13,
        "direction": "horizontal",
        "columns": 8,
        "fillColor": "white",
        "strokeColor": "#000000",
        "padding": 21,
        "labelFontSize": 31,
        "labelColor": "#595959",
        "labelLimit": 400,
        "labelOffset": -1,
        "columnPadding": 14,
        "symbolType": "circle",
        "symbolSize": 50,
        "symbolStrokeWidth": 1
      }
    },
    "stroke": {
      "field": "group",
      "type": "nominal",
      "scale": {
        "domain": ["No intervention", "A", "B", "C", "D", "E", "F", "G"],
        "range": ["#BFBFBF", "#9BBB59", "#8064A2", "#4BACC6", "#C0504D", "#F79646", "#2C4D75", "#772C2A"]
      }
    }
  },
  "layer": [
    {
      "transform": [{"filter": "datum.group === 'No intervention'"}],
      "mark": {"type": "point", "shape": "circle", "filled": true, "size": 50, "strokeWidth": 1, "opacity": 1}
    },
    {
      "transform": [{"filter": "datum.group !== 'No intervention'"}],
      "mark": {"type": "point", "shape": "circle", "filled": true, "size": 62, "strokeWidth": 1, "opacity": 1},
      "encoding": {"order": {"field": "group", "sort": "ascending"}}
    }
  ]
}
